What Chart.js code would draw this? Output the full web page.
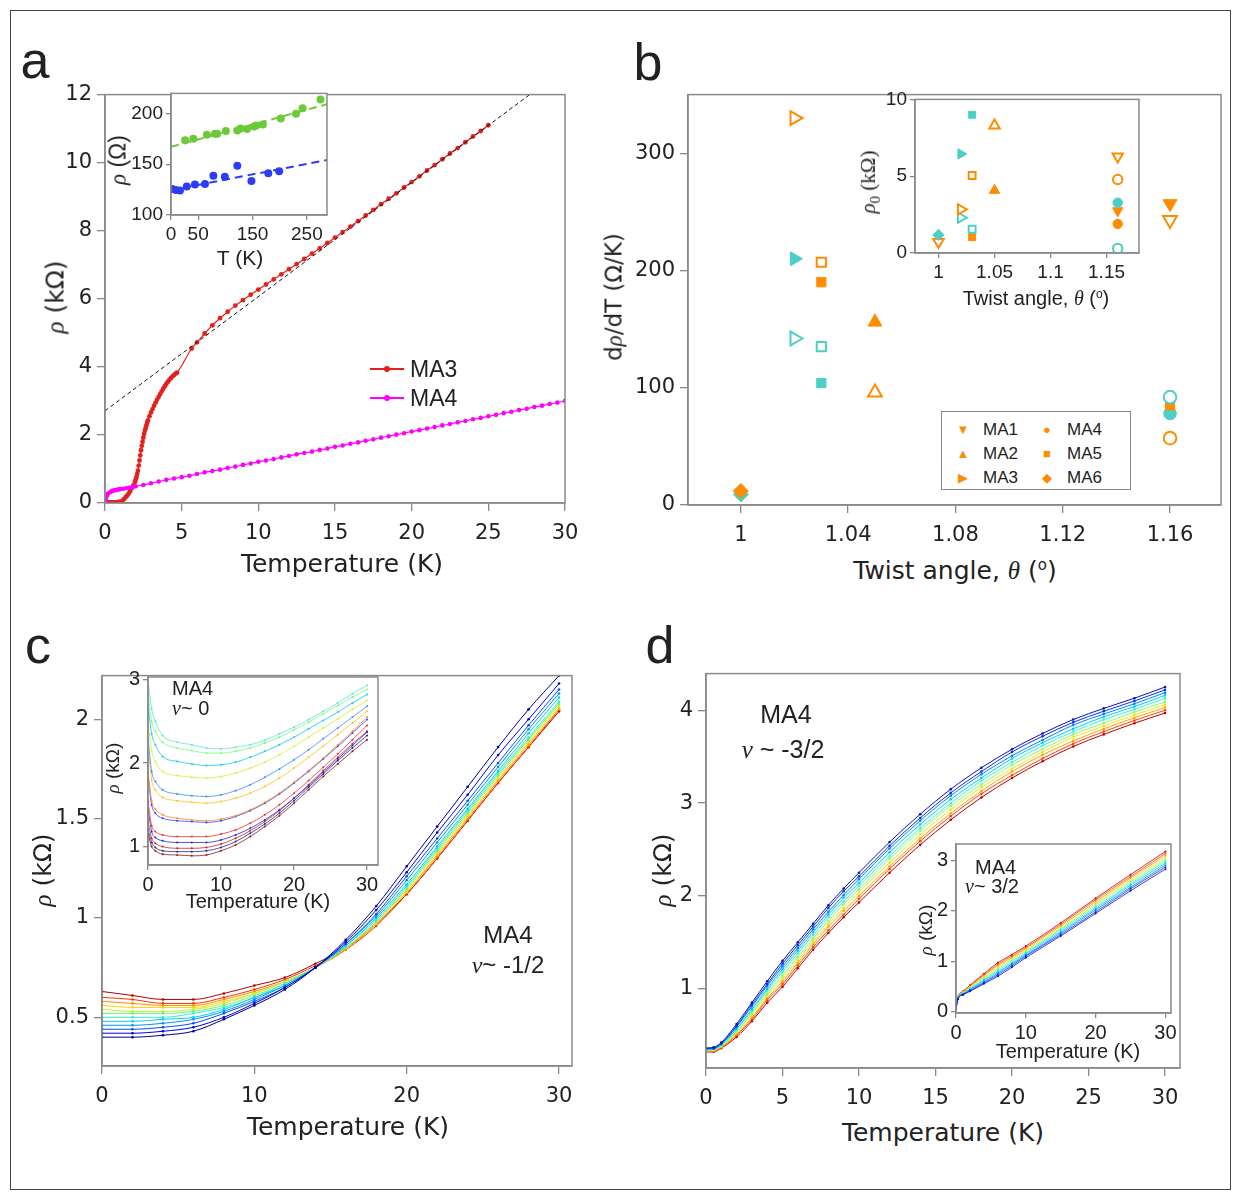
<!DOCTYPE html>
<html>
<head>
<script src="https://cdn.jsdelivr.net/npm/chart.js"></script>
<style>
  body { margin: 0; background: #fff; width: 1241px; height: 1199px; position: relative; overflow: hidden;
         font-family: "Liberation Sans", Arial, sans-serif; color: #222; }
  canvas { position: absolute; }
  .t { position: absolute; white-space: nowrap; transform: translate(-50%, -50%); line-height: 1; }
  .t.r { transform: translate(-50%, -50%) rotate(-90deg); }
  .t.l { transform: translate(0, -50%); }
  .dv { font-family: "DejaVu Sans", sans-serif; }
  .s { font-family: "Liberation Serif", serif; font-style: italic; }
  .rm { font-family: "Liberation Serif", serif; }
  sup.o { font-size: 0.6em; vertical-align: 0.55em; }
  #outer { position: absolute; left: 10px; top: 10px; width: 1219px; height: 1178px; border: 1.5px solid #444; }
  #legb { position: absolute; left: 941px; top: 411px; width: 188px; height: 77px; border: 1.5px solid #888; background: #fff; }
</style>
</head>
<body>
<div id="outer"></div>
<canvas id="ca"></canvas>
<canvas id="cai"></canvas>
<canvas id="cb"></canvas>
<canvas id="cbi"></canvas>
<canvas id="cc"></canvas>
<canvas id="cci"></canvas>
<canvas id="cd"></canvas>
<canvas id="cdi"></canvas>
<div id="legb"></div>

<script>
// ---------- panel a : rho(T) for MA3 / MA4 ----------
const ma3T = [0.05,0.15,0.25,0.35,0.45,0.55,0.65,0.75,0.85,0.95,1.05,1.15,1.25,1.35,1.45,1.55,1.65,1.75,1.85,1.95,
  2.0,2.05,2.1,2.15,2.2,2.25,2.3,2.35,2.4,2.45,2.5,2.55,2.6,2.65,2.7,2.75,2.8,2.9,3.0,3.1,3.2,3.3,3.4,3.5,3.6,3.7,
  3.8,3.9,4.0,4.1,4.2,4.3,4.4,4.5,4.6,4.7,
  5.65,6,6.5,7,7.5,8,8.5,9,9.5,10,10.5,11,11.5,12,12.5,13,13.5,14,14.5,15,15.5,16,16.5,17,17.5,18,18.5,19,19.5,
  20,20.5,21,21.5,22,22.5,23,23.5,24,24.5,25];
const ma3R = [0.02,0.02,0.02,0.02,0.02,0.02,0.02,0.02,0.03,0.03,0.04,0.07,0.12,0.17,0.22,0.28,0.35,0.44,0.52,0.62,
  0.68,0.76,0.85,0.95,1.1,1.25,1.4,1.55,1.68,1.8,1.92,2.03,2.12,2.2,2.28,2.36,2.43,2.55,2.66,2.76,2.86,2.95,3.04,3.12,3.2,3.28,
  3.36,3.43,3.5,3.56,3.62,3.67,3.72,3.76,3.8,3.83,
  4.54,4.72,4.98,5.22,5.43,5.62,5.80,5.96,6.12,6.27,6.42,6.57,6.72,6.87,7.02,7.17,7.33,7.48,7.64,7.80,7.96,8.12,8.28,8.45,8.61,8.78,8.94,9.10,9.27,
  9.43,9.60,9.77,9.93,10.10,10.27,10.43,10.60,10.77,10.93,11.10];
const ma4T = [0.02,0.05,0.1,0.15,0.2,0.3,0.4,0.5,0.6,0.7,0.8,0.9,1.0,1.2,1.4,1.6,1.8,2,2.5,3,3.5,4,4.5,5,5.5,6,6.5,7,7.5,8,8.5,9,9.5,10,
  10.5,11,11.5,12,12.5,13,13.5,14,14.5,15,15.5,16,16.5,17,17.5,18,18.5,19,19.5,20,20.5,21,21.5,22,22.5,23,23.5,24,24.5,25,
  25.5,26,26.5,27,27.5,28,28.5,29,29.5,30];
const ma4R = [0.05,0.12,0.2,0.25,0.28,0.31,0.34,0.36,0.37,0.38,0.39,0.40,0.41,0.42,0.44,0.45,0.46,0.49,0.53,0.58,0.63,0.68,0.72,0.76,0.80,0.85,0.90,0.94,0.98,1.03,1.07,1.12,1.16,1.21,
  1.25,1.29,1.34,1.38,1.43,1.47,1.51,1.56,1.60,1.65,1.69,1.74,1.78,1.83,1.87,1.92,1.96,2.01,2.05,2.10,2.14,2.19,2.23,2.28,2.32,2.37,2.41,2.46,2.50,2.55,
  2.59,2.64,2.68,2.73,2.77,2.82,2.86,2.91,2.95,3.00];
const ma3Fit = [[0, 2.71], [27.7, 12]];
const aXTicks = [0,5,10,15,20,25,30], aYTicks = [0,2,4,6,8,10,12];

// inset a: rho (Ohm) vs T (K)
const greenT = [26,41,66,81,85,101,122,128,140,153,157,169,202,230,242,275];
const greenR = [173.5,175,179,180,180,182.5,183,185,184.5,187,188,189,195,199.5,205,213.5];
const blueT = [2,9,16.5,29,44,62.5,78,99,122,148,179,199];
const blueR = [125.5,124.5,124,128,130,130.5,138.5,137.5,148.5,133.5,141,143];
const greenFit = [[0,167],[287,209]], blueFit = [[0,124.5],[287,154]];
const aiXTicks = [0,50,150,250], aiYTicks = [100,150,200];

// ---------- panel b : d rho/dT and rho0 vs twist angle ----------
const bSample = ['MA3','MA3','MA3','MA5','MA5','MA5','MA5','MA2','MA2','MA6','MA6','MA1','MA1','MA4','MA5','MA4','MA4'];
const bGroup  = ['or-open','te-fill','te-open','or-open','or-fill','te-open','te-fill','or-fill','or-open','or-fill','te-fill','or-fill','or-open','te-open','or-fill','te-fill','or-open'];
const bTheta  = [1.02,1.02,1.02,1.03,1.03,1.03,1.03,1.05,1.05,1.00,1.00,1.16,1.16,1.16,1.16,1.16,1.16];
const bSlope  = [330,210,142,207,190,135,104,156,96,12,9,257,243,92,85,78,57];
const biSample = ['MA5','MA2','MA3','MA5','MA2','MA3','MA3','MA5','MA5','MA6','MA1','MA6','MA1','MA4','MA4','MA1','MA4','MA4'];
const biGroup  = ['te-fill','or-open','te-fill','or-open','or-fill','or-open','te-open','te-open','or-fill','te-fill','or-open','or-fill','or-open','or-open','te-fill','or-fill','or-fill','te-open'];
const biTheta  = [1.03,1.05,1.02,1.03,1.05,1.02,1.02,1.03,1.03,1.00,1.00,1.00,1.16,1.16,1.16,1.16,1.16,1.16];
const biRho0   = [9.0,8.3,6.45,5.05,4.08,2.84,2.3,1.55,1.03,1.18,0.72,0.85,6.28,4.79,3.27,2.75,1.89,0.3];
const bXTicks = [1,1.04,1.08,1.12,1.16], bYTicks = [0,100,200,300];
const biXTicks = [1,1.05,1.1,1.15], biYTicks = [0,5,10];

// ---------- panel c : MA4, nu ~ -1/2 (main) and nu ~ 0 (inset) ----------
const cT = [0,2,4,6,8,10,12,14,16,18,20,22,24,26,28,30];
const cCurves = [
  [0.40,0.40,0.41,0.43,0.49,0.56,0.64,0.75,0.89,1.06,1.26,1.46,1.66,1.86,2.05,2.22],
  [0.42,0.42,0.43,0.45,0.50,0.57,0.65,0.75,0.88,1.04,1.23,1.43,1.62,1.82,2.00,2.18],
  [0.44,0.44,0.45,0.47,0.52,0.58,0.65,0.75,0.87,1.02,1.21,1.40,1.59,1.78,1.97,2.15],
  [0.46,0.46,0.47,0.49,0.53,0.59,0.66,0.75,0.87,1.01,1.19,1.38,1.57,1.76,1.95,2.13],
  [0.48,0.48,0.49,0.50,0.54,0.60,0.66,0.75,0.86,1.00,1.17,1.36,1.55,1.74,1.93,2.11],
  [0.50,0.50,0.50,0.52,0.55,0.60,0.67,0.75,0.86,0.99,1.16,1.35,1.54,1.73,1.91,2.09],
  [0.52,0.52,0.52,0.53,0.56,0.61,0.67,0.75,0.85,0.98,1.15,1.34,1.53,1.72,1.90,2.08],
  [0.54,0.53,0.53,0.54,0.57,0.62,0.68,0.75,0.85,0.98,1.14,1.33,1.52,1.71,1.89,2.07],
  [0.56,0.55,0.55,0.55,0.58,0.62,0.68,0.75,0.85,0.97,1.13,1.32,1.51,1.70,1.88,2.06],
  [0.58,0.57,0.56,0.56,0.59,0.63,0.68,0.75,0.84,0.97,1.13,1.31,1.50,1.69,1.87,2.05],
  [0.60,0.59,0.57,0.57,0.60,0.64,0.69,0.76,0.84,0.96,1.12,1.30,1.49,1.68,1.86,2.05],
  [0.63,0.61,0.59,0.59,0.62,0.66,0.70,0.77,0.85,0.97,1.12,1.30,1.49,1.68,1.86,2.04]
];
const cXTicks = [0,10,20,30], cYTicks = [0.5,1,1.5,2];

const ciT = [0,0.5,1,2,4,6,8,10,12,14,16,18,20,22,24,26,28,30];
const ciCurves = [
  [3.00,2.65,2.50,2.33,2.25,2.22,2.18,2.17,2.19,2.22,2.27,2.35,2.43,2.52,2.62,2.72,2.83,2.93],
  [2.85,2.50,2.38,2.25,2.18,2.15,2.12,2.12,2.14,2.18,2.24,2.31,2.40,2.49,2.59,2.69,2.79,2.88],
  [2.70,2.35,2.22,2.08,2.02,1.99,1.97,1.98,2.01,2.07,2.14,2.22,2.31,2.41,2.51,2.61,2.72,2.82],
  [2.50,2.15,2.02,1.90,1.85,1.83,1.82,1.84,1.88,1.94,2.01,2.10,2.20,2.31,2.42,2.53,2.64,2.75],
  [2.30,1.90,1.78,1.68,1.63,1.61,1.60,1.62,1.67,1.74,1.83,1.93,2.04,2.16,2.29,2.42,2.55,2.68],
  [2.20,1.80,1.68,1.59,1.55,1.53,1.52,1.54,1.58,1.64,1.72,1.82,1.94,2.07,2.20,2.34,2.48,2.62],
  [1.90,1.55,1.45,1.38,1.34,1.32,1.31,1.33,1.37,1.44,1.53,1.64,1.77,1.91,2.06,2.22,2.38,2.55],
  [1.85,1.50,1.40,1.34,1.31,1.30,1.29,1.31,1.36,1.43,1.52,1.63,1.76,1.90,2.05,2.20,2.36,2.52],
  [1.55,1.25,1.18,1.14,1.12,1.12,1.12,1.15,1.20,1.28,1.38,1.50,1.64,1.79,1.95,2.11,2.28,2.45],
  [1.45,1.18,1.11,1.07,1.05,1.05,1.05,1.08,1.14,1.22,1.32,1.44,1.58,1.73,1.89,2.05,2.21,2.37],
  [1.30,1.10,1.04,1.00,0.98,0.98,0.99,1.03,1.10,1.19,1.30,1.43,1.58,1.74,1.91,2.07,2.23,2.38],
  [1.20,1.05,0.99,0.95,0.94,0.94,0.95,0.99,1.06,1.16,1.27,1.40,1.55,1.71,1.87,2.03,2.18,2.33],
  [1.15,1.00,0.95,0.91,0.90,0.89,0.90,0.95,1.02,1.12,1.24,1.37,1.52,1.68,1.84,1.99,2.14,2.28]
];
const ciXTicks = [0,10,20,30], ciYTicks = [1,2,3];

// ---------- panel d : MA4, nu ~ -3/2 (main) and nu ~ 3/2 (inset) ----------
const dT = [0,0.5,1,2,3,4,5,6,7,8,9,10,12,14,16,18,20,22,24,26,28,30];
const dCurves = [
  [.36,.37,.42,.62,.85,1.08,1.30,1.50,1.70,1.90,2.08,2.25,2.58,2.88,3.15,3.38,3.58,3.75,3.90,4.02,4.13,4.25],
  [.36,.36,.41,.60,.83,1.05,1.27,1.47,1.67,1.87,2.05,2.21,2.54,2.84,3.11,3.34,3.55,3.72,3.87,3.99,4.10,4.22],
  [.35,.36,.41,.59,.81,1.03,1.24,1.44,1.64,1.83,2.01,2.18,2.51,2.81,3.08,3.31,3.51,3.68,3.84,3.96,4.07,4.19],
  [.35,.35,.40,.57,.78,1.00,1.21,1.41,1.61,1.80,1.98,2.14,2.47,2.77,3.04,3.27,3.48,3.65,3.80,3.93,4.04,4.16],
  [.34,.35,.39,.56,.76,.98,1.18,1.38,1.58,1.77,1.94,2.11,2.43,2.73,3.00,3.24,3.44,3.62,3.77,3.90,4.01,4.13],
  [.34,.34,.39,.54,.74,.95,1.14,1.34,1.54,1.73,1.91,2.07,2.40,2.70,2.97,3.20,3.41,3.58,3.74,3.86,3.98,4.09],
  [.33,.34,.38,.53,.72,.93,1.11,1.31,1.51,1.70,1.87,2.04,2.36,2.66,2.93,3.17,3.37,3.55,3.71,3.83,3.95,4.06],
  [.33,.33,.37,.51,.69,.90,1.08,1.28,1.48,1.67,1.84,2.00,2.32,2.62,2.89,3.13,3.34,3.52,3.67,3.80,3.92,4.03],
  [.32,.33,.37,.50,.67,.88,1.05,1.25,1.45,1.63,1.80,1.97,2.29,2.59,2.86,3.10,3.30,3.48,3.64,3.77,3.89,4.00],
  [.32,.32,.36,.48,.65,.85,1.02,1.22,1.42,1.60,1.77,1.93,2.25,2.55,2.82,3.06,3.27,3.45,3.61,3.74,3.86,3.97]
];
const dXTicks = [0,5,10,15,20,25,30], dYTicks = [1,2,3,4];

const diT = [0,0.3,1,2,4,6,8,10,15,20,25,30];
const diCurves = [
  [.05,.25,.33,.40,.55,.70,.88,1.07,1.50,1.95,2.40,2.83],
  [.06,.26,.34,.41,.57,.73,.91,1.10,1.53,1.98,2.44,2.87],
  [.06,.26,.35,.43,.59,.76,.94,1.12,1.56,2.02,2.47,2.91],
  [.07,.27,.35,.44,.62,.79,.96,1.15,1.59,2.05,2.51,2.95],
  [.07,.27,.36,.45,.64,.82,.99,1.17,1.62,2.08,2.54,2.99],
  [.08,.28,.37,.47,.66,.85,1.02,1.20,1.64,2.12,2.58,3.02],
  [.08,.28,.38,.48,.68,.88,1.05,1.22,1.67,2.15,2.61,3.06],
  [.09,.29,.38,.49,.71,.91,1.07,1.25,1.70,2.18,2.65,3.10],
  [.09,.29,.39,.51,.73,.94,1.10,1.27,1.73,2.22,2.68,3.14],
  [.10,.30,.40,.52,.75,.97,1.13,1.30,1.76,2.25,2.72,3.18]
];
const diXTicks = [0,10,20,30], diYTicks = [0,1,2,3];

// ---------- styles ----------
const SANS = '"Liberation Sans", Arial, sans-serif';
const DEJAVU = '"DejaVu Sans", sans-serif';
Chart.defaults.font.family = SANS;
Chart.defaults.color = '#222';
const ORANGE = '#FF8C00', TEAL = '#4DCFC6';
const jet12 = ['#00008B','#0000E0','#0050FF','#0090FF','#00CCFF','#30F0C8','#70F070','#C0F030','#FFD000','#FF8C00','#FF3000','#B00000'];
const ciColors = ['#5EE6D0','#7CFA7C','#10C8F8','#D6EE38','#3C8CFF','#FFC21E','#FF8A20','#3040FF','#F03030','#2828D0','#C82828','#282888','#8C1C1C'];
const jet10 = ['#1010B0','#0030FF','#0080FF','#00C8FF','#30F8D0','#90F868','#E8E810','#FFA000','#FF4000','#C00000'];
const shapes = {MA1: ['triangle', 180], MA2: ['triangle', 0], MA3: ['triangle', 90], MA4: ['circle', 0], MA5: ['rect', 0], MA6: ['rectRot', 0]};
const shapeR = {triangle: 8, circle: 6.3, rect: 6.5, rectRot: 7.5};

const framePlugin = {
  id: 'frame',
  beforeDraw(c) { const a = c.chartArea, x = c.ctx; x.save(); x.fillStyle = '#fff'; x.fillRect(a.left, a.top, a.width, a.height); x.restore(); },
  afterDraw(c) { const a = c.chartArea, x = c.ctx; x.save(); x.strokeStyle = '#8a8a8a'; x.lineWidth = 1.5; x.strokeRect(a.left, a.top, a.width, a.height); x.restore(); }
};

function axis(min, max, ticks, o, horiz) {
  return {
    type: 'linear', min, max,
    afterBuildTicks: s => { s.ticks = ticks.map(v => ({value: v})); },
    afterFit: s => { if (horiz) s.height = o.xH; else s.width = o.yW; },
    ticks: { font: {size: o.fs, family: o.fam}, color: '#222', padding: horiz ? o.px : o.py,
             autoSkip: false, maxRotation: 0, callback: v => String(v) },
    grid: { drawOnChartArea: false, drawTicks: true, tickLength: o.tl, color: '#888', lineWidth: 1.3 },
    border: { display: true, color: '#888', width: 1.5 }
  };
}

function make(id, box, xr, yr, datasets, o) {
  const [l, t, r, b] = box, padT = 14, padR = 26;
  const cv = document.getElementById(id);
  cv.width = r - l + o.yW + padR; cv.height = b - t + padT + o.xH;
  cv.style.left = (l - o.yW) + 'px'; cv.style.top = (t - padT) + 'px';
  return new Chart(cv, {
    type: 'scatter', data: {datasets}, plugins: [framePlugin],
    options: {
      responsive: false, animation: false,
      layout: {padding: {top: padT, right: padR, left: 0, bottom: 0}},
      plugins: {legend: {display: false}, tooltip: {enabled: false}},
      scales: { x: axis(xr[0], xr[1], xr[2], o, true), y: axis(yr[0], yr[1], yr[2], o, false) }
    }
  });
}
const MAIN = {fam: DEJAVU, fs: 21, tl: 8, px: 10, py: 5, xH: 48};
const INSET = {fam: SANS, fs: 19, tl: 5, px: 3, py: 3, xH: 30};

const xy = (xs, ys) => xs.map((x, i) => ({x, y: ys[i]}));
const pairs = p => p.map(([x, y]) => ({x, y}));
const curve = (xs, ys, col, lw, pr) => ({ data: xy(xs, ys), showLine: true, borderColor: col, backgroundColor: col,
  borderWidth: lw, pointRadius: pr, pointBorderWidth: 0, cubicInterpolationMode: 'monotone' });
const dashed = (p, col, lw, dash) => ({ data: pairs(p), showLine: true, borderColor: col, borderWidth: lw, borderDash: dash, pointRadius: 0 });

function markers(samples, groups, xs, ys, scale) {
  return xs.map((x, i) => {
    const [style, rot] = shapes[samples[i]];
    const col = groups[i].startsWith('or') ? ORANGE : TEAL;
    const open = groups[i].endsWith('open');
    return { data: [{x, y: ys[i]}], pointStyle: style, rotation: rot, pointRadius: shapeR[style] * scale,
      borderColor: col, backgroundColor: open ? '#fff' : col, pointBorderWidth: open ? 2 : 1 };
  });
}

// ---------- charts ----------
make('ca', [105, 91, 565, 503], [0, 30, aXTicks], [0, 12, aYTicks], [
  dashed(ma3Fit, '#111', 1, [4, 3]),
  curve(ma4T, ma4R, '#FF00FF', 1.2, 2.3),
  curve(ma3T, ma3R, '#E3211C', 1.2, 2.4)
], {...MAIN, yW: 60});

make('cai', [171, 93, 327, 215], [0, 287, aiXTicks], [100, 219.6, aiYTicks], [
  dashed(greenFit, '#6DC93A', 2, [8, 5]),
  dashed(blueFit, '#2E3CF5', 2, [8, 5]),
  { data: xy(greenT, greenR), backgroundColor: '#6DC93A', borderWidth: 0, pointRadius: 4 },
  { data: xy(blueT, blueR), backgroundColor: '#2E3CF5', borderWidth: 0, pointRadius: 4 }
], {...INSET, yW: 48});

make('cb', [688, 91, 1221, 505], [0.9803, 1.179, bXTicks], [0, 350, bYTicks],
  markers(bSample, bGroup, bTheta, bSlope, 1), {...MAIN, yW: 70});

make('cbi', [915, 99, 1139, 253], [0.979, 1.179, biXTicks], [0, 10, biYTicks],
  markers(biSample, biGroup, biTheta, biRho0, 0.75), {...INSET, yW: 36});

make('cc', [102, 672, 572, 1066], [0, 30.85, cXTicks], [0.255, 2.22, cYTicks],
  cCurves.map((c, i) => curve(cT, c, jet12[i], 1, 1.3)), {...MAIN, yW: 60});

make('cci', [148, 676, 378, 865], [0, 31.5, ciXTicks], [0.78, 3.03, ciYTicks],
  ciCurves.map((c, i) => curve(ciT, c, ciColors[i], 0.8, 1)), {...INSET, fs: 20, yW: 24});

make('cd', [706, 670, 1180, 1068], [0, 30.98, dXTicks], [0.146, 4.395, dYTicks],
  dCurves.map((c, i) => curve(dT, c, jet10[i], 1, 1.3)), {...MAIN, yW: 40});

make('cdi', [956, 843, 1171, 1013], [0, 30.8, diXTicks], [-0.03, 3.33, diYTicks],
  diCurves.map((c, i) => curve(diT, c, jet10[i], 0.8, 1)), {...INSET, fs: 20, yW: 24});

// ---------- text ----------
function txt(html, cx, cy, fs, cls) {
  const d = document.createElement('div');
  d.className = 't' + (cls ? ' ' + cls : '');
  d.style.left = cx + 'px'; d.style.top = cy + 'px'; d.style.fontSize = fs + 'px';
  d.innerHTML = html;
  document.body.appendChild(d);
}
const rho = '<span class="s">ρ</span>';
const deg = '(<sup class="o">o</sup>)';

txt('a', 35, 60, 52); txt('b', 648, 62, 52); txt('c', 38, 645, 52); txt('d', 660, 645, 52);

txt(rho + ' (kΩ)', 55, 297, 25, 'r dv');
txt('Temperature (K)', 342, 563, 25, 'dv');
txt(rho + ' (Ω)', 118, 160, 23, 'r');
txt('T (K)', 240, 257, 21);

txt('d' + rho + '/dT (Ω/K)', 614, 297, 23, 'r dv');
txt('Twist angle, <span class="s">θ</span> ' + deg, 955, 570, 25, 'dv');
txt('<span class="rm"><span class="s">ρ</span><sub style="font-size:15px">0</sub> (kΩ)</span>', 870, 182, 21, 'r');
txt('Twist angle, <span class="s">θ</span> ' + deg, 1036, 298, 20);

txt(rho + ' (kΩ)', 42, 870, 25, 'r dv');
txt('Temperature (K)', 348, 1126, 25, 'dv');
txt(rho + ' (kΩ)', 112, 768, 19, 'r');
txt('Temperature (K)', 258, 901, 20);
txt('MA4', 508, 935, 24);
txt('<span class="s">ν</span>~ -1/2', 508, 965, 24);
txt('MA4', 172, 688, 20, 'l');
txt('<span class="s">ν</span>~ 0', 172, 708, 20, 'l');

txt(rho + ' (kΩ)', 662, 870, 25, 'r dv');
txt('Temperature (K)', 943, 1132, 25, 'dv');
txt(rho + ' (kΩ)', 925, 930, 19, 'r');
txt('Temperature (K)', 1068, 1051, 20);
txt('MA4', 786, 714, 25);
txt('<span class="s">ν</span> ~ -3/2', 783, 749, 25);
txt('MA4', 975, 867, 20, 'l');
txt('<span class="s">ν</span>~ 3/2', 965, 886, 20, 'l');

// legend a
[['MA3', '#E3211C', 369], ['MA4', '#FF00FF', 398]].forEach(([name, col, y]) => {
  const ln = document.createElement('div');
  ln.style.cssText = `position:absolute;left:370px;top:${y - 1}px;width:34px;height:1.5px;background:${col}`;
  const dot = document.createElement('div');
  dot.style.cssText = `position:absolute;left:${384}px;top:${y - 3}px;width:6px;height:6px;border-radius:50%;background:${col}`;
  document.body.appendChild(ln); document.body.appendChild(dot);
  txt(name, 410, y, 23, 'l');
});

// legend b
[['▼', 'MA1', 963, 429], ['▲', 'MA2', 963, 453], ['▶', 'MA3', 963, 477],
 ['●', 'MA4', 1047, 429], ['■', 'MA5', 1047, 453], ['◆', 'MA6', 1047, 477]].forEach(([sym, name, x, y]) => {
  txt('<span style="color:' + ORANGE + '">' + sym + '</span>', x, y, 13);
  txt(name, x + 20, y, 17, 'l');
});
</script>
</body>
</html>
